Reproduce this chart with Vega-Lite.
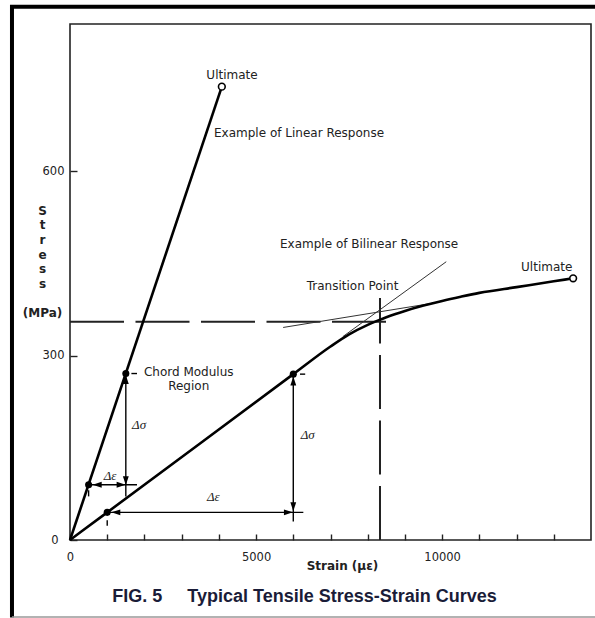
{
  "$schema": "https://vega.github.io/schema/vega-lite/v6.json",
  "width": 521,
  "height": 516,
  "autosize": {"type": "none"},
  "padding": {"left": 70, "top": 24, "right": 4, "bottom": 78},
  "background": "white",
  "config": {
    "view": {"stroke": "#222", "strokeWidth": 1.6},
    "font": "DejaVu Sans"
  },
  "title": {
    "text": "FIG. 5\u00a0\u00a0\u00a0\u00a0 Typical Tensile Stress-Strain Curves",
    "orient": "bottom",
    "anchor": "middle",
    "frame": "group",
    "dx": -26,
    "offset": -31,
    "font": "Liberation Sans",
    "fontSize": 18,
    "fontWeight": "bold",
    "color": "#1a1c38"
  },
  "datasets": {
    "frameBlack": [
      {"x": -1559, "x2": -1559, "y": -126, "y2": 871},
      {"x": -1612, "x2": 14300, "y": 868, "y2": 868}
    ],
    "frameGray": [
      {"x": -1559, "x2": 14300, "y": -125.5, "y2": -125.5}
    ],
    "dashed": [
      {"x": 0, "x2": 8572, "y": 355.4, "y2": 355.4},
      {"x": 8330, "x2": 8330, "y": 0, "y2": 394}
    ],
    "tangents": [
      {"id": "a", "x": 7330, "y": 331},
      {"id": "a", "x": 10110, "y": 453},
      {"id": "b", "x": 5727, "y": 346},
      {"id": "b", "x": 9800, "y": 386}
    ],
    "curves": [
      {"curve": "linear", "x": 0, "y": 0},
      {"curve": "linear", "x": 4080, "y": 738},
      {"curve": "bilinear", "x": 0, "y": 0},
      {"curve": "bilinear", "x": 1000, "y": 45},
      {"curve": "bilinear", "x": 6000, "y": 270},
      {"curve": "bilinear", "x": 7000, "y": 315},
      {"curve": "bilinear", "x": 7500, "y": 334.8},
      {"curve": "bilinear", "x": 8000, "y": 350.3},
      {"curve": "bilinear", "x": 8300, "y": 358},
      {"curve": "bilinear", "x": 8500, "y": 362.7},
      {"curve": "bilinear", "x": 9000, "y": 372.9},
      {"curve": "bilinear", "x": 9500, "y": 381.6},
      {"curve": "bilinear", "x": 10000, "y": 389.2},
      {"curve": "bilinear", "x": 10500, "y": 396},
      {"curve": "bilinear", "x": 11000, "y": 402.3},
      {"curve": "bilinear", "x": 12000, "y": 411.7},
      {"curve": "bilinear", "x": 13000, "y": 421.1},
      {"curve": "bilinear", "x": 13520, "y": 426}
    ],
    "segments": [
      {"x": 1500, "x2": 1500, "y": 271, "y2": 71},
      {"x": 500, "x2": 1800, "y": 90, "y2": 90},
      {"x": 6000, "x2": 6000, "y": 270, "y2": 30},
      {"x": 1000, "x2": 6270, "y": 45, "y2": 45},
      {"x": 500, "x2": 500, "y": 81, "y2": 71},
      {"x": 1000, "x2": 1000, "y": 32, "y2": 23},
      {"x": 1650, "x2": 1800, "y": 271, "y2": 271},
      {"x": 6180, "x2": 6320, "y": 270, "y2": 270}
    ],
    "dots": [
      {"x": 500, "y": 90},
      {"x": 1500, "y": 271},
      {"x": 1000, "y": 45},
      {"x": 6000, "y": 270}
    ],
    "ultimate": [
      {"x": 4080, "y": 738},
      {"x": 13520, "y": 426}
    ],
    "arrows": [
      {"dir": "up", "x": 1500, "y": 268.5},
      {"dir": "down", "x": 1500, "y": 89},
      {"dir": "left", "x": 610, "y": 90},
      {"dir": "right", "x": 1495, "y": 90},
      {"dir": "left", "x": 1110, "y": 45},
      {"dir": "right", "x": 5990, "y": 45},
      {"dir": "up", "x": 6000, "y": 266},
      {"dir": "down", "x": 6000, "y": 47}
    ],
    "labelsLeft": [
      {"t": "Example of Linear Response", "x": 3870, "y": 662.5},
      {"t": "Example of Bilinear Response", "x": 5643, "y": 482},
      {"t": "Transition Point", "x": 6361, "y": 414}
    ],
    "labelsCenter": [
      {"t": "Ultimate", "x": 4353, "y": 757},
      {"t": "Ultimate", "x": 12810, "y": 444},
      {"t": "Chord Modulus", "x": 3190, "y": 274},
      {"t": "Region", "x": 3190, "y": 250.7}
    ],
    "deltaLeft": [
      {"t": "Δσ", "x": 1666, "y": 187},
      {"t": "Δσ", "x": 6199, "y": 171}
    ],
    "deltaCenter": [
      {"t": "Δε", "x": 1075, "y": 104},
      {"t": "Δε", "x": 3852, "y": 70}
    ]
  },
  "encoding": {
    "x": {
      "field": "x",
      "type": "quantitative",
      "scale": {"domain": [0, 14000], "nice": false, "zero": false},
      "axis": {
        "values": [0, 1000, 2000, 3000, 4000, 5000, 6000, 7000, 8000, 9000, 10000, 11000, 12000, 13000],
        "format": "d",
        "labelExpr": "datum.value % 5000 === 0 ? datum.label : ''",
        "domain": false,
        "grid": false,
        "tickSize": -6,
        "tickWidth": 1.4,
        "tickColor": "#222",
        "labelFont": "DejaVu Sans",
        "labelFontSize": 11.5,
        "labelColor": "#222",
        "labelPadding": 17,
        "labelFlush": false,
        "title": "Strain (με)",
        "titleFont": "DejaVu Sans",
        "titleFontSize": 12,
        "titleFontWeight": "bold",
        "titleColor": "#222",
        "titleX": 272,
        "titleY": 29.4,
        "titleAlign": "center",
        "titleBaseline": "alphabetic"
      }
    },
    "y": {
      "field": "y",
      "type": "quantitative",
      "scale": {"domain": [0, 840], "nice": false},
      "axis": {
        "values": [0, 300, 600],
        "format": "d",
        "domain": false,
        "grid": false,
        "tickSize": -7,
        "tickWidth": 1.4,
        "tickColor": "#222",
        "labelFont": "DejaVu Sans",
        "labelFontSize": 11.5,
        "labelColor": "#222",
        "labelPadding": {"condition": {"test": "datum.value === 0", "value": 19}, "value": 13},
        "labelFlush": false,
        "title": ["S", "t", "r", "e", "s", "s", "\u200b", "(MPa)"],
        "titleFont": "DejaVu Sans",
        "titleFontSize": 12,
        "titleFontWeight": "bold",
        "titleColor": "#222",
        "titleAngle": 0,
        "titleLineHeight": 14.6,
        "titleX": -28,
        "titleY": 190.4,
        "titleAlign": "center",
        "titleBaseline": "alphabetic"
      }
    }
  },
  "layer": [
    {
      "data": {"name": "frameBlack"},
      "mark": {"type": "rule", "clip": false, "color": "black", "strokeWidth": 4},
      "encoding": {"x2": {"field": "x2"}, "y2": {"field": "y2"}}
    },
    {
      "data": {"name": "frameGray"},
      "mark": {"type": "rule", "clip": false, "color": "#999", "strokeWidth": 1.5},
      "encoding": {"x2": {"field": "x2"}, "y2": {"field": "y2"}}
    },
    {
      "data": {"name": "dashed"},
      "mark": {"type": "rule", "color": "#222", "strokeWidth": 2, "strokeDash": [54, 11.5]},
      "encoding": {"x2": {"field": "x2"}, "y2": {"field": "y2"}}
    },
    {
      "data": {"name": "tangents"},
      "mark": {"type": "line", "color": "#333", "strokeWidth": 1},
      "encoding": {"detail": {"field": "id"}}
    },
    {
      "data": {"name": "curves"},
      "mark": {"type": "line", "color": "black", "strokeWidth": 2.6, "interpolate": "monotone"},
      "encoding": {"detail": {"field": "curve"}}
    },
    {
      "data": {"name": "segments"},
      "mark": {"type": "rule", "color": "black", "strokeWidth": 1.4},
      "encoding": {"x2": {"field": "x2"}, "y2": {"field": "y2"}}
    },
    {
      "data": {"name": "arrows"},
      "mark": {"type": "point", "filled": true, "color": "black", "size": 81, "opacity": 1, "strokeWidth": 0},
      "encoding": {
        "shape": {
          "field": "dir",
          "type": "nominal",
          "scale": {
            "domain": ["up", "down", "left", "right"],
            "range": ["M0,0L-0.65,2L0.65,2Z", "M0,0L-0.65,-2L0.65,-2Z", "M0,0L2,-0.65L2,0.65Z", "M0,0L-2,-0.65L-2,0.65Z"]
          },
          "legend": null
        }
      }
    },
    {
      "data": {"name": "dots"},
      "mark": {"type": "point", "shape": "circle", "filled": true, "color": "black", "size": 50, "opacity": 1}
    },
    {
      "data": {"name": "ultimate"},
      "mark": {"type": "point", "shape": "circle", "filled": true, "fill": "white", "stroke": "black", "strokeWidth": 1.6, "size": 45, "opacity": 1}
    },
    {
      "data": {"name": "labelsLeft"},
      "mark": {"type": "text", "align": "left", "baseline": "middle", "font": "DejaVu Sans", "fontSize": 12, "color": "#222"},
      "encoding": {"text": {"field": "t"}}
    },
    {
      "data": {"name": "labelsCenter"},
      "mark": {"type": "text", "align": "center", "baseline": "middle", "font": "DejaVu Sans", "fontSize": 12, "color": "#222"},
      "encoding": {"text": {"field": "t"}}
    },
    {
      "data": {"name": "deltaLeft"},
      "mark": {"type": "text", "align": "left", "baseline": "middle", "font": "Liberation Serif", "fontStyle": "italic", "fontSize": 13, "color": "#222"},
      "encoding": {"text": {"field": "t"}}
    },
    {
      "data": {"name": "deltaCenter"},
      "mark": {"type": "text", "align": "center", "baseline": "middle", "font": "Liberation Serif", "fontStyle": "italic", "fontSize": 13, "color": "#222"},
      "encoding": {"text": {"field": "t"}}
    }
  ]
}
